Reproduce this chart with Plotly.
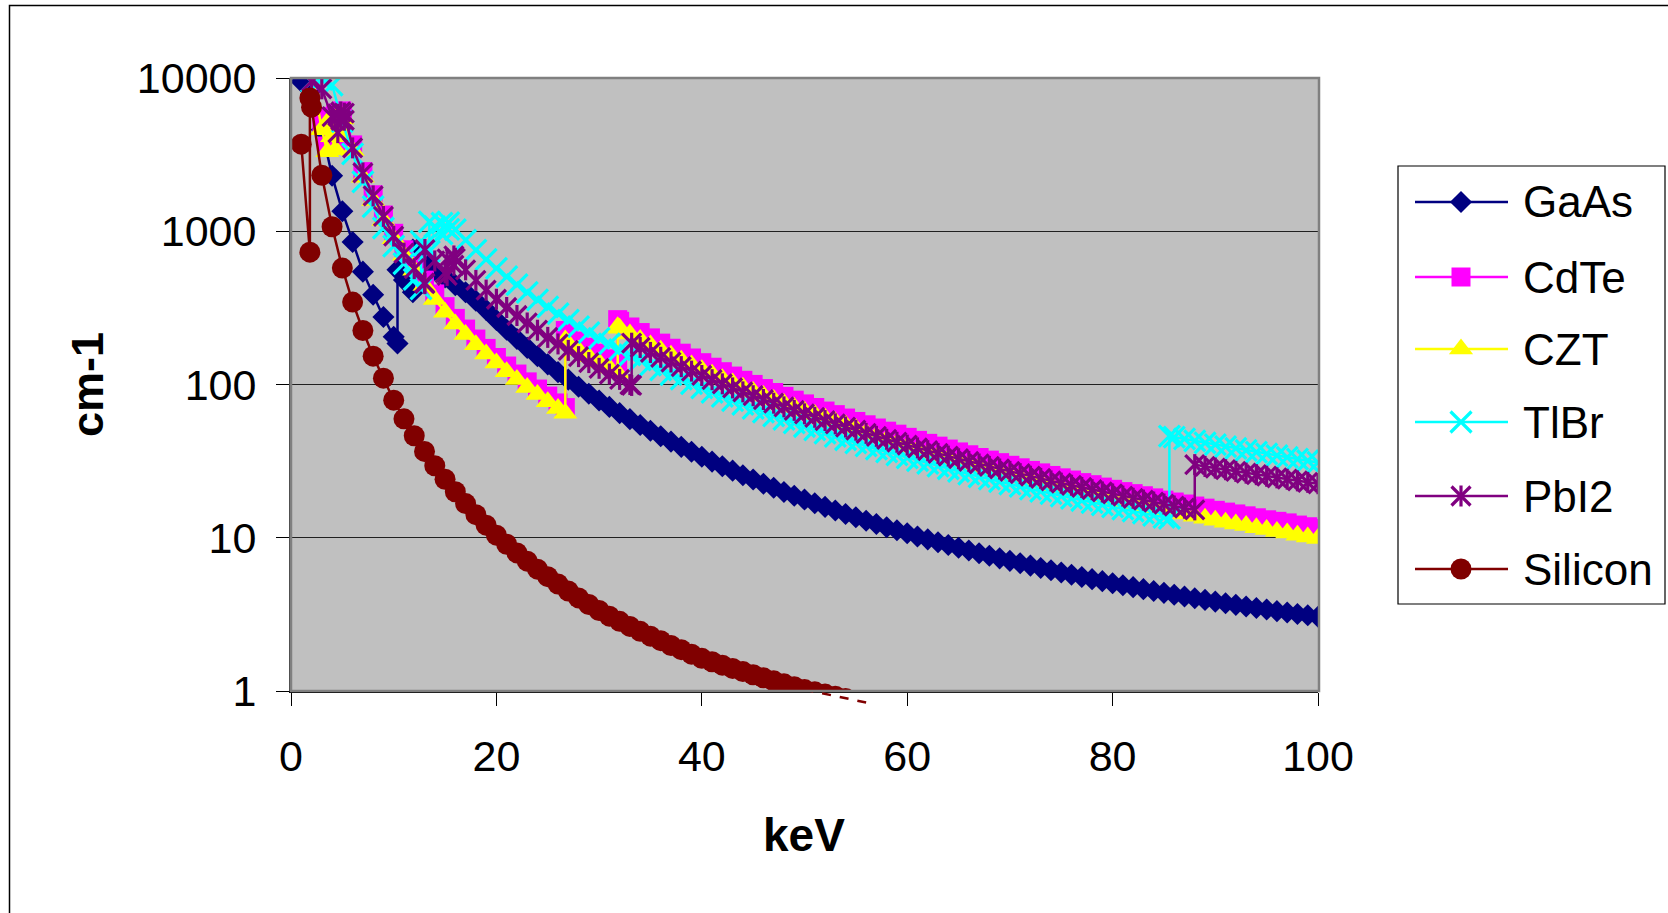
import plotly.graph_objects as go

# ---------------- data (keV, linear attenuation cm-1) ----------------
E_12_100 = [12, 13, 14, 15, 16, 17, 18, 19, 20, 21, 22, 23, 24, 25, 26, 27, 28, 29, 30,
            31, 32, 33, 34, 35, 36, 37, 38, 39, 40, 41, 42, 43, 44, 45, 46, 47, 48, 49, 50,
            51, 52, 53, 54, 55, 56, 57, 58, 59, 60, 61, 62, 63, 64, 65, 66, 67, 68, 69, 70,
            71, 72, 73, 74, 75, 76, 77, 78, 79, 80, 81, 82, 83, 84, 85, 86, 87, 88, 89, 90,
            91, 92, 93, 94, 95, 96, 97, 98, 99, 100]

gaas_E = [1, 2, 3, 4, 5, 6, 7, 8, 9, 10, 10.37, 10.37, 11, 11.87, 11.87] + E_12_100
gaas_mu = [9500, 8500, 4600, 2300, 1350, 850, 545, 385, 276, 205, 185, 560, 480, 400, 760,
           720, 640, 560, 500, 445, 400, 352, 307, 263.5,
           227.8, 198.2, 173.5, 152.9, 135.4, 120.4, 107.6, 96.6, 87.05, 78.7,
           71.4, 65.0, 59.4, 54.4, 49.9, 45.95, 42.4, 39.2, 36.4, 33.8,
           31.4, 29.3, 27.4, 25.6, 24.0, 22.5, 21.2, 19.9, 18.8, 17.75,
           16.8, 15.9, 15.05, 14.3, 13.6, 12.9, 12.3, 11.7, 11.2, 10.7,
           10.2, 9.76, 9.35, 8.96, 8.60, 8.25, 7.93, 7.63, 7.34, 7.07,
           6.82, 6.58, 6.35, 6.13, 5.93, 5.73, 5.55, 5.37, 5.21, 5.05,
           4.90, 4.76, 4.62, 4.49, 4.37, 4.25, 4.14, 4.03, 3.93, 3.83,
           3.74, 3.65, 3.56, 3.48, 3.40, 3.32, 3.25, 3.18, 3.12, 3.05]

cd_E = ([1, 2, 3, 3.54, 3.54, 4, 4.34, 4.34, 4.94, 4.94,
         5, 6, 7, 8, 9, 10, 11, 12, 13, 14, 15, 16, 17, 18, 19, 20, 21, 22, 23, 24, 25, 26,
         26.71, 26.71, 27, 28, 29, 30, 31, 31.81, 31.81] + E_12_100[20:])
cdte_mu = [40000, 12000, 5000, 3600, 5600, 4500, 3700, 5900, 4600, 6100,
           5880, 3660, 2450, 1730, 1276, 970, 757, 604, 480, 390, 322, 270, 230, 198, 172, 150,
           132, 117, 104, 93.4, 84.0, 75.8,
           70.7, 225, 212, 192, 175, 160, 147, 137, 265,
           258.5, 237.3, 218.3, 201.4, 186.2, 172.4, 160.1, 148.9, 138.8,
           129.6, 121.2, 113.5, 106.5, 100.1, 94.1, 88.7, 83.7, 79.0, 74.7,
           70.8, 67.1, 63.6, 60.4, 57.4, 54.6, 52.0, 49.6, 47.4, 45.2,
           43.2, 41.3, 39.6, 37.9, 36.3, 34.8, 33.4, 32.1, 30.9, 29.7,
           28.6, 27.5, 26.5, 25.5, 24.6, 23.8, 22.9, 22.2, 21.4, 20.7,
           20.0, 19.4, 18.8, 18.2, 17.6, 17.1, 16.6, 16.1, 15.6, 15.1,
           14.7, 14.3, 13.9, 13.5, 13.1, 12.8, 12.5, 12.1, 11.8, 11.5]

czt_mu = [36800, 11000, 4600, 3300, 5150, 4140, 3400, 5430, 4230, 5600,
          5410, 3370, 2250, 1590, 1174, 892, 696, 556, 442, 359, 296, 248, 212, 182, 158, 138,
          121, 108, 95.7, 85.9, 77.3, 69.7,
          65.0, 195, 184, 167, 152, 139, 128, 119, 238,
          232.7, 213.6, 196.5, 181.3, 167.6, 155.2, 144.1, 134.0, 124.9,
          116.6, 109.1, 102.2, 95.9, 90.1, 84.7, 79.8, 75.3, 71.1, 67.2,
          63.7, 60.4, 57.2, 54.4, 51.7, 48.3, 45.8, 43.4, 41.2, 39.1,
          37.2, 35.5, 34.1, 32.6, 31.2, 29.9, 28.7, 27.6, 26.6, 25.5,
          24.6, 23.7, 22.8, 21.9, 21.2, 20.5, 19.7, 19.1, 18.4, 17.8,
          17.2, 16.7, 16.2, 15.7, 15.1, 14.7, 14.3, 13.8, 13.4, 13.0,
          12.6, 12.3, 12.0, 11.6, 11.3, 11.0, 10.75, 10.4, 10.1, 9.9]

tl_E = ([1, 2, 3, 4, 5, 6, 7, 8, 9, 10, 11, 12, 12.66, 12.66, 13, 13.47, 13.47, 14, 14.7, 14.7,
         15, 15.35, 15.35] + E_12_100[4:74] + [85.53, 85.53] + E_12_100[74:])
tlbr_mu = [30000, 9500, 9800, 9000, 5200, 3200, 2100, 1450, 1050, 800, 615, 485, 420, 860, 810,
           740, 1150, 1070, 960, 1130, 1080, 1030, 1140,
           1024, 875, 754, 655, 573,
           505, 448, 399, 357, 321, 290, 263, 239, 218, 200,
           184, 169, 156, 145, 134, 124.7, 116.1, 108.4, 101.3, 94.9,
           89.0, 83.6, 78.6, 74.1, 69.9, 66.1, 62.5, 59.2, 56.1, 53.2,
           50.6, 48.1, 45.8, 43.6, 41.6, 39.7, 37.9, 36.3, 34.7, 33.25,
           31.9, 30.6, 29.3, 28.2, 27.1, 26.0, 25.0, 24.1, 23.2, 22.4,
           21.6, 20.8, 20.1, 19.4, 18.7, 18.1, 17.5, 16.96, 16.4, 15.9,
           15.4, 14.9, 14.5, 14.0, 13.6,
           13.4, 46,
           45.4, 44.1, 42.8, 41.6, 40.5, 39.3, 38.3, 37.2, 36.2, 35.3, 34.4, 33.5, 32.6, 31.8, 31.0]

pb_E = ([1, 2, 3, 4, 4.56, 4.56, 4.85, 4.85, 5.19, 5.19, 6, 7, 8, 9, 10, 11, 12, 13, 13.04, 13.04,
         14, 15, 15.2, 15.2, 15.86, 15.86] + E_12_100[4:22] + [33.17, 33.17] + E_12_100[22:76]
        + [88, 88] + E_12_100[77:])
pbi2_mu = [30000, 9500, 8500, 5600, 4400, 5800, 5300, 6000, 5300, 5900, 3500, 2400, 1700, 1250,
           930, 720, 570, 460, 455, 760, 640, 535, 515, 660, 600, 690,
           665, 560, 478, 413, 360, 318, 282, 252, 226, 203, 184, 167, 152, 139, 127.5, 117, 108, 99.9,
           98.6, 186,
           174.5, 161.9, 150.5, 140.2, 130.8, 122.3, 114.5,
           107.5, 101.0, 95.0, 89.5, 84.5, 79.8, 75.5, 71.5, 67.8, 64.4,
           61.1, 58.2, 55.4, 52.8, 50.3, 48.0, 45.9, 43.9, 42.0, 40.2,
           38.6, 37.0, 35.5, 34.1, 32.8, 31.5, 30.3, 29.2, 28.1, 27.1,
           26.2, 25.2, 24.4, 23.5, 22.7, 22.0, 21.3, 20.6, 19.9, 19.3,
           18.7, 18.1, 17.6, 17.1, 16.6, 16.1, 15.6,
           15.2, 30,
           29.2, 28.5, 27.8, 27.1, 26.4, 25.8, 25.2, 24.6, 24.1, 23.5, 23.0, 22.5]

si_E = [1, 1.839, 1.839, 2, 3, 4, 5, 6, 7, 8, 9, 10, 11, 12, 13, 14, 15, 16, 17, 18, 19, 20,
        21, 22, 23, 24, 25, 26, 27, 28, 29, 30, 31, 32, 33, 34, 35, 36, 37, 38, 39, 40,
        41, 42, 43, 44, 45, 46, 47, 48, 49, 50, 51, 52, 53, 54, 55, 56]
si_mu = [3700, 730, 7400, 6450, 2320, 1070, 575, 345, 225, 153, 110, 79.0,
         59.7, 46.3, 36.6, 29.5, 24.1, 19.96, 16.7, 14.15, 12.08, 10.40,
         9.07, 7.96, 7.03, 6.24, 5.57, 4.99, 4.49, 4.05, 3.67, 3.35,
         3.08, 2.85, 2.64, 2.45, 2.28, 2.13, 1.98, 1.86, 1.74, 1.634,
         1.551, 1.475, 1.404, 1.338, 1.276, 1.218, 1.165, 1.114, 1.067, 1.022,
         0.988, 0.955, 0.925, 0.895, 0.867, 0.841]

names = ["GaAs", "CdTe", "CZT", "TlBr", "PbI2", "Silicon"]
x_ticks = [0, 20, 40, 60, 80, 100]
y_ticks = [1, 10, 100, 1000, 10000]
y_ticktext = ["1", "10", "100", "1000", "10000"]

# ---------------- styling ----------------
W, H = 1668, 913
PL, PR, PT, PB = 291, 1318, 78, 691
TAIL_B = 725  # lower pixel edge of the overlay axis used for the Silicon tail below y=1
FONT = "Liberation Sans, Arial, sans-serif"

colors = {"GaAs": "#000080", "CdTe": "#FF00FF", "CZT": "#FFFF00",
          "TlBr": "#00FFFF", "PbI2": "#800080", "Silicon": "#800000"}
data = {"GaAs": (gaas_E, gaas_mu), "CdTe": (cd_E, cdte_mu), "CZT": (cd_E, czt_mu),
        "TlBr": (tl_E, tlbr_mu), "PbI2": (pb_E, pbi2_mu), "Silicon": (si_E, si_mu)}
marker_style = {
    "GaAs": dict(symbol="diamond", size=17),
    "CdTe": dict(symbol="square", size=19),
    "CZT": dict(symbol="triangle-up", size=21),
    "TlBr": dict(symbol="x-thin", size=21),
    "PbI2": dict(symbol="x-thin", size=19),
    "Silicon": dict(symbol="circle", size=21),
}


def px(x):
    return x / W


def py(y):
    return 1 - y / H


fig = go.Figure()

# Silicon tail that runs below the x axis (drawn on an overlay axis sharing the same scale)
tail_x = [e for e in si_E if e >= 50]
tail_y = si_mu[len(si_E) - len(tail_x):]
fig.add_trace(go.Scatter(
    x=tail_x, y=tail_y, mode="lines", showlegend=False,
    line=dict(color=colors["Silicon"], width=2.5, dash="dash"),
    xaxis="x3", yaxis="y3", hoverinfo="skip"))

for n in names:
    xs, ys = data[n]
    c = colors[n]
    ms = marker_style[n]
    fig.add_trace(go.Scatter(
        x=xs, y=ys, mode="lines+markers", name=n, showlegend=False,
        line=dict(color=c, width=2.5),
        marker=dict(symbol=ms["symbol"], size=ms["size"], color=c,
                    line=dict(color=c, width=3.2 if "thin" in ms["symbol"] else 0)),
        xaxis="x", yaxis="y"))
    if n == "PbI2":
        fig.add_trace(go.Scatter(
            x=xs, y=ys, mode="markers", showlegend=False,
            marker=dict(symbol="line-ns", size=15, color=c, line=dict(color=c, width=3.2)),
            xaxis="x", yaxis="y"))

# custom legend (pixel-like coordinates on a hidden overlay axis)
LX0, LX1, LY0, LY1 = 1398, 1665, 166, 604
rows = [202, 277, 349, 422, 496, 569]
for n, ry in zip(names, rows):
    c = colors[n]
    ms = marker_style[n]
    fig.add_trace(go.Scatter(
        x=[1415, 1508], y=[ry, ry], mode="lines", showlegend=False,
        line=dict(color=c, width=2.5), xaxis="x2", yaxis="y2", hoverinfo="skip"))
    fig.add_trace(go.Scatter(
        x=[1461], y=[ry], mode="markers", showlegend=False,
        marker=dict(symbol=ms["symbol"], size=ms["size"], color=c,
                    line=dict(color=c, width=3.2 if "thin" in ms["symbol"] else 0)),
        xaxis="x2", yaxis="y2", hoverinfo="skip"))
    if n == "PbI2":
        fig.add_trace(go.Scatter(
            x=[1461], y=[ry], mode="markers", showlegend=False,
            marker=dict(symbol="line-ns", size=15, color=c, line=dict(color=c, width=3.2)),
            xaxis="x2", yaxis="y2", hoverinfo="skip"))

annotations = []
for n, ry in zip(names, rows):
    annotations.append(dict(text=n, x=px(1521), y=py(ry), xref="paper", yref="paper",
                            xanchor="left", yanchor="middle", showarrow=False,
                            font=dict(family=FONT, size=44, color="black")))
annotations.append(dict(text="<b>keV</b>", x=px(804), y=py(835), xref="paper", yref="paper",
                        xanchor="center", yanchor="middle", showarrow=False,
                        font=dict(family=FONT, size=46, color="black")))
annotations.append(dict(text="<b>cm-1</b>", x=px(87), y=py(385), xref="paper", yref="paper",
                        xanchor="center", yanchor="middle", showarrow=False, textangle=-90,
                        font=dict(family=FONT, size=45, color="black")))

shapes = [
    dict(type="rect", xref="paper", yref="paper", x0=px(PL), x1=px(PR), y0=py(PB), y1=py(PT),
         fillcolor="#C0C0C0", line=dict(width=0), layer="below"),
    dict(type="rect", xref="paper", yref="paper", x0=px(PL), x1=px(PR + 1), y0=py(PB), y1=py(PT),
         fillcolor="rgba(0,0,0,0)", line=dict(color="#808080", width=2.5), layer="above"),
    dict(type="rect", xref="paper", yref="paper", x0=px(LX0), x1=px(LX1), y0=py(LY1), y1=py(LY0),
         fillcolor="rgba(0,0,0,0)", line=dict(color="black", width=1.2), layer="above"),
    dict(type="rect", xref="paper", yref="paper", x0=px(9.5), x1=1.05, y0=-0.05, y1=py(5.5),
         fillcolor="rgba(0,0,0,0)", line=dict(color="black", width=1.5), layer="above"),
]

decade_px = (PB - PT) / 4.0
tail_log_bottom = -(TAIL_B - PB) / decade_px

fig.update_layout(
    template="none",
    width=W, height=H, autosize=False,
    margin=dict(l=0, r=0, t=0, b=0, pad=0, autoexpand=False),
    paper_bgcolor="white", plot_bgcolor="rgba(0,0,0,0)",
    font=dict(family=FONT, size=43, color="black"),
    showlegend=False,
    xaxis=dict(domain=[px(PL), px(PR)], range=[0, 100], tickvals=x_ticks,
               ticks="outside", ticklen=13, tickwidth=1, tickcolor="black",
               showline=True, linecolor="black", linewidth=1.5, mirror=False,
               showgrid=False, zeroline=False, anchor="y", automargin=False,
               tickfont=dict(family=FONT, size=43, color="black"), ticklabelstandoff=14),
    yaxis=dict(domain=[py(PB), py(PT)], type="log", range=[0, 4],
               tickvals=y_ticks, ticktext=y_ticktext,
               ticks="outside", ticklen=13, tickwidth=1, tickcolor="black",
               showline=True, linecolor="#404040", linewidth=2, mirror=False,
               showgrid=True, gridcolor="#202020", gridwidth=1, zeroline=False, anchor="x",
               automargin=False,
               tickfont=dict(family=FONT, size=43, color="black"), ticklabelstandoff=11),
    xaxis2=dict(domain=[px(LX0), px(LX1)], range=[LX0, LX1], visible=False, anchor="y2",
                fixedrange=True, automargin=False),
    yaxis2=dict(domain=[py(LY1), py(LY0)], range=[LY1, LY0], visible=False, anchor="x2",
                fixedrange=True, automargin=False),
    xaxis3=dict(domain=[px(PL), px(PR)], range=[0, 100], visible=False, anchor="y3",
                fixedrange=True, automargin=False),
    yaxis3=dict(domain=[py(TAIL_B), py(PT)], type="log", range=[tail_log_bottom, 4],
                visible=False, anchor="x3", fixedrange=True, automargin=False),
    shapes=shapes,
    annotations=annotations,
)

fig.write_html("out.html")
